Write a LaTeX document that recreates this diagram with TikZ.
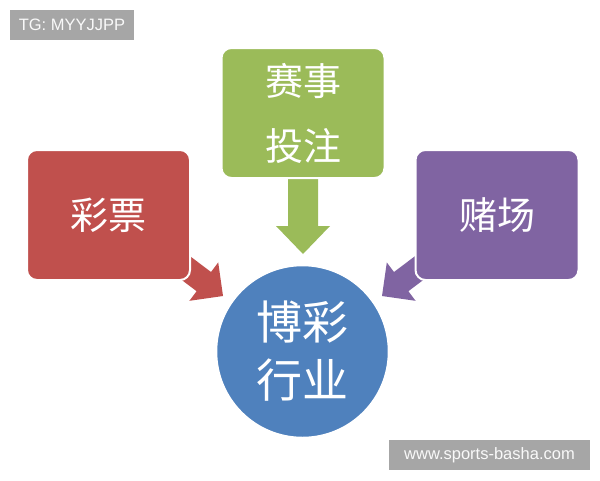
\documentclass[tikz,border=0pt]{standalone}
\usepackage{fontspec}
\setmainfont{Liberation Sans}
\newfontfamily\cjk{Noto Sans CJK SC}
\definecolor{cred}{HTML}{C0504D}
\definecolor{cgreen}{HTML}{9BBB59}
\definecolor{cpurple}{HTML}{8064A2}
\definecolor{cblue}{HTML}{4F81BD}
\definecolor{cgray}{HTML}{A6A6A6}
\begin{document}
\begin{tikzpicture}[x=1pt,y=-1pt,
  boxstyle/.style={rounded corners=10pt, draw=white, line width=2pt,
    minimum width=163pt, minimum height=130pt, inner sep=0pt,
    text=white, font=\cjk\fontsize{38}{65}\selectfont, align=center},
  tag/.style={fill=cgray, text=white!95!gray, inner sep=0pt,
    font=\fontsize{16.5}{18}\selectfont}]
\useasboundingbox (0,0) rectangle (600,480);
\fill[white] (0,0) rectangle (600,480);

% block arrows (drawn first, boxes overlap their tails)
\fill[cgreen] (288,172) -- (318,172) -- (318,226) -- (330,226) -- (303,254)
  -- (276,226) -- (288,226) -- cycle;
\fill[cred] (163.9,266.5) -- (196.6,291.2) -- (189.4,300.8) -- (223,296)
  -- (218.2,262.4) -- (211.0,272.0) -- (178.3,247.3) -- cycle;
\fill[cpurple] (441.1,266.5) -- (408.4,291.2) -- (415.6,300.8) -- (382,296)
  -- (386.8,262.4) -- (394.0,272.0) -- (426.7,247.3) -- cycle;

% boxes
\node[boxstyle, fill=cred] (lottery) at (108.5,215) {彩票};
\node[boxstyle, fill=cgreen] (sports) at (303,113) {赛事\\投注};
\node[boxstyle, fill=cpurple] (casino) at (497,215) {赌场};

% circle
\node[circle, fill=cblue, draw=white, line width=1.5pt, minimum size=172pt,
  inner sep=0pt, text=white, align=center,
  font=\cjk\fontsize{46}{58}\selectfont] (industry) at (302.5,351.5) {博彩\\行业};

% tags
\node[tag, minimum width=124pt, minimum height=30pt] (tg) at (72,25) {TG: MYYJJPP};
\node[tag, minimum width=201pt, minimum height=30pt] (web) at (489.5,455) {www.sports-basha.com};
\end{tikzpicture}
\end{document}
